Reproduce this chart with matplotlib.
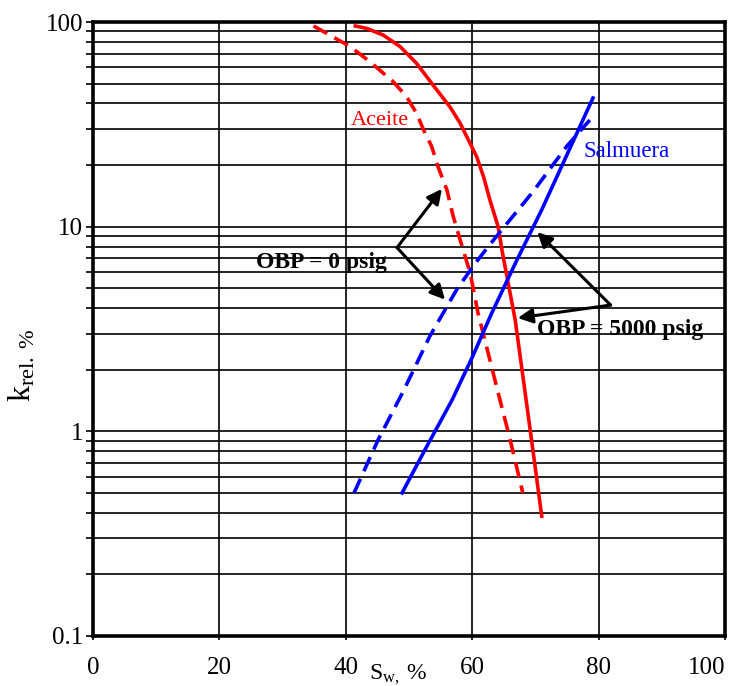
import matplotlib
matplotlib.use('Agg')
import matplotlib.pyplot as plt
from matplotlib.ticker import LogLocator, NullFormatter, FixedLocator

plt.rcParams['font.family'] = ['Liberation Serif', 'DejaVu Serif']
plt.rcParams['mathtext.fontset'] = 'custom'
plt.rcParams['mathtext.rm'] = 'Liberation Serif'

# curves (Sw %, k_rel %)
oil_5000_sw = [41.5, 43.3, 45.9, 48.6, 51.2, 53.8, 56.5, 58.1, 59.4, 60.7, 61.8,
               62.8, 64.1, 64.7, 65.5, 66.8, 68.2, 69.6, 71.0]
oil_5000_k = [95.6, 93.1, 86.4, 75.8, 62.8, 49.2, 38.4, 32.0, 26.5, 22.0, 17.5,
              13.5, 10.0, 7.7, 5.7, 3.5, 1.69, 0.81, 0.385]
oil_0_sw = [34.9, 40.7, 43.8, 47.5, 49.6, 51.2, 52.3, 53.6, 54.6, 56.0, 57.0,
            58.1, 59.7, 60.9, 62.8, 64.4, 66.0, 68.0]
oil_0_k = [95.6, 75.8, 64.0, 51.1, 43.2, 35.8, 29.7, 24.6, 19.6, 15.1, 11.2,
           8.6, 5.9, 3.8, 2.23, 1.42, 0.91, 0.50]
brine_5000_sw = [48.9, 52.5, 56.8, 60.0, 63.1, 67.0, 71.0, 75.0, 79.1]
brine_5000_k = [0.50, 0.81, 1.42, 2.3, 3.79, 6.8, 12.1, 22.5, 42.5]
brine_0_sw = [41.3, 45.1, 49.05, 53.3, 57.6, 60.4, 62.4, 64.4, 69.6, 75.0, 78.6]
brine_0_k = [0.50, 0.908, 1.56, 2.92, 4.96, 6.57, 7.9, 9.42, 14.8, 24.8, 33.2]

x_ticks = [0, 20, 40, 60, 80, 100]
y_ticks = [0.1, 1, 10, 100]
y_labels = ['0.1', '1', '10', '100']

fig = plt.figure(figsize=(7.3, 6.86), dpi=100)
ax = fig.add_axes([0.1274, 0.0729, 0.8658, 0.895])
ax.set_yscale('log')
ax.set_xlim(0, 100)
ax.set_ylim(0.1, 100)

ax.xaxis.set_major_locator(FixedLocator(x_ticks))
ax.yaxis.set_major_locator(FixedLocator(y_ticks))
ax.set_yticklabels(y_labels)
ax.yaxis.set_minor_locator(LogLocator(base=10, subs=range(2, 10)))
ax.yaxis.set_minor_formatter(NullFormatter())
ax.grid(which='both', axis='y', color='k', lw=1.2)
ax.grid(which='major', axis='x', color='k', lw=1.2)
ax.tick_params(axis='y', which='both', length=5, width=1.2, pad=2, labelsize=18)
ax.tick_params(axis='x', length=3, width=1.2, pad=12, labelsize=18)
for s in ax.spines.values():
    s.set_linewidth(2.6)

lw = 2.6
dash = (4.3, 2.3)
ax.plot(oil_5000_sw, oil_5000_k, color='#ff0000', lw=lw)
ax.plot(oil_0_sw, oil_0_k, color='#ff0000', lw=lw, dashes=dash)
ax.plot(brine_5000_sw, brine_5000_k, color='#0000ff', lw=lw)
ax.plot(brine_0_sw, brine_0_k, color='#0000ff', lw=lw, dashes=dash)

ax.text(45.4, 33.2, 'Aceite', color='#ff0000', fontsize=16, ha='center', va='center')
ax.text(84.5, 23.2, 'Salmuera', color='#0000ff', fontsize=16.5, ha='center', va='center')
ax.text(36.2, 6.7, 'OBP = 0 psig', fontsize=17, fontweight='bold', ha='center', va='center')
ax.text(83.4, 3.13, 'OBP = 5000 psig', fontsize=17, fontweight='bold', ha='center', va='center')

arrow = dict(arrowstyle='-|>', color='k', lw=2.2, mutation_scale=22, shrinkA=0, shrinkB=0)
ax.annotate('', xy=(55.2, 15.3), xytext=(48.1, 7.9), arrowprops=arrow)
ax.annotate('', xy=(55.7, 4.4), xytext=(48.1, 7.9), arrowprops=arrow)
ax.annotate('', xy=(70.3, 9.4), xytext=(81.9, 4.14), arrowprops=arrow)
ax.annotate('', xy=(67.2, 3.58), xytext=(81.9, 4.14), arrowprops=arrow)

fig.text(0.030, 0.468, r'$\mathregular{k_{rel.\,\%}}$', fontsize=23, rotation=90,
         ha='center', va='center')
fig.text(0.545, 0.016, r'$\mathregular{S_{w,}\,\%}$', fontsize=17, ha='center', va='center')

fig.canvas.draw()
ax.get_xticklabels()[-1].set_horizontalalignment('right')
fig.savefig('out.png', dpi=100)
